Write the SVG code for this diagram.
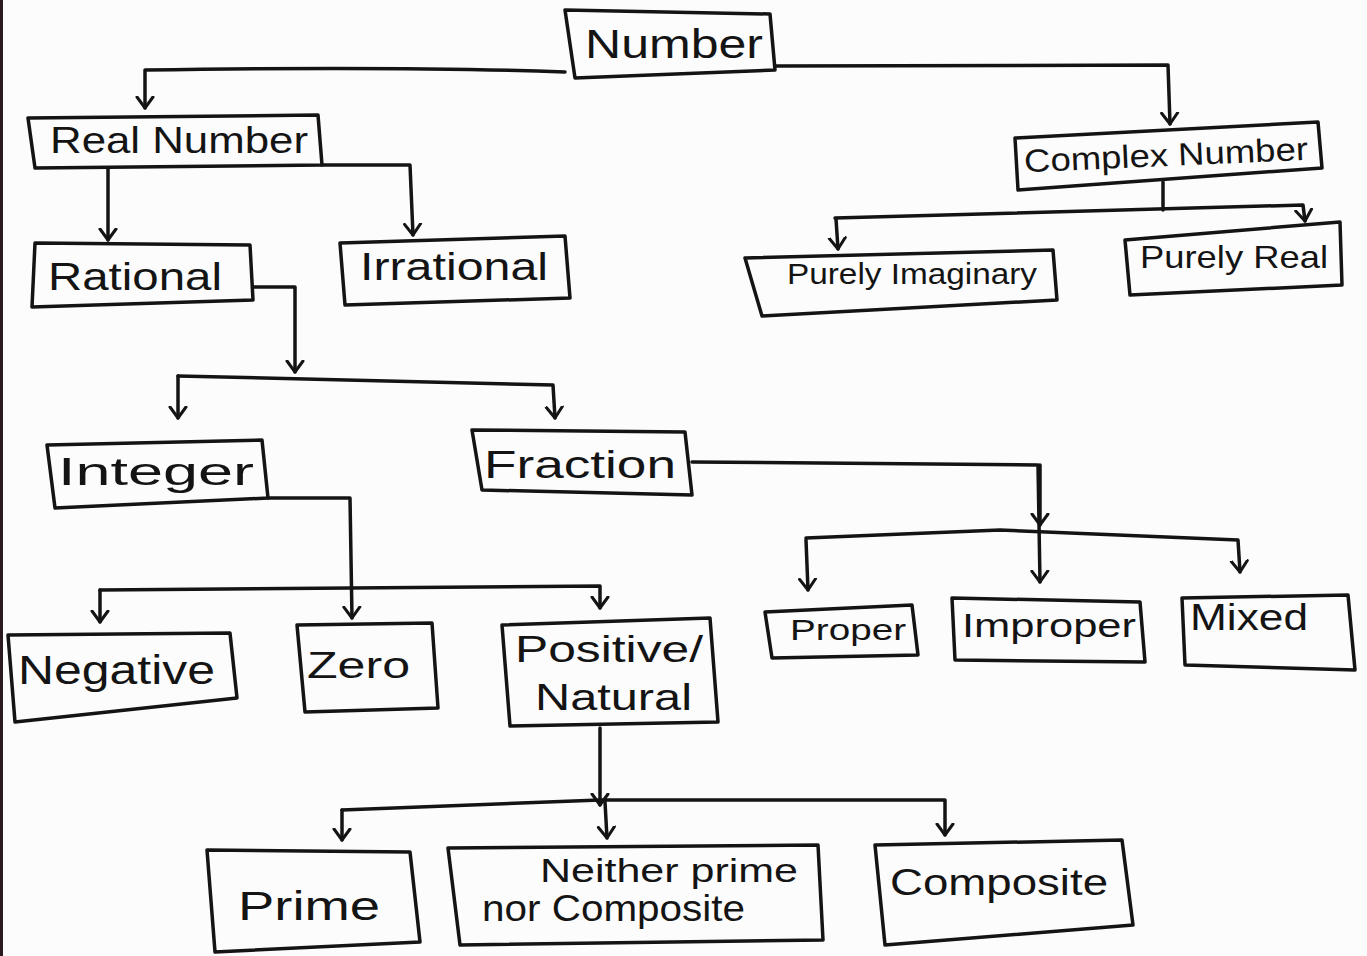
<svg xmlns="http://www.w3.org/2000/svg" width="1367" height="956" viewBox="0 0 1367 956">
<style>
.box{fill:none;stroke:#141414;stroke-width:3.5;stroke-linejoin:round}
.con{fill:none;stroke:#141414;stroke-width:3.5;stroke-linecap:round;stroke-linejoin:round}
text{font-family:"Liberation Sans","DejaVu Sans",sans-serif;fill:#141414;text-anchor:start}
</style>
<defs>
<marker id="ah" viewBox="-12 -10 14 20" markerWidth="14" markerHeight="20" refX="0" refY="0" orient="auto" markerUnits="userSpaceOnUse">
<path d="M-11,-8 L0,0 L-11,8" fill="none" stroke="#141414" stroke-width="3" stroke-linecap="round" stroke-linejoin="round"/>
</marker>
</defs>
<rect x="0" y="0" width="1367" height="956" fill="#fcfcfc"/>
<rect x="0" y="0" width="3" height="956" fill="#2a1a1e"/>

<g id="connectors">
<path class="con" d="M565,72 Q400,66 145,70 L145,108" marker-end="url(#ah)"/>
<path class="con" d="M775,66 L1168,65 L1170,124" marker-end="url(#ah)"/>
<path class="con" d="M108,168 L108,240" marker-end="url(#ah)"/>
<path class="con" d="M322,165 L410,165 L413,235" marker-end="url(#ah)"/>
<path class="con" d="M1163,182 L1163,210"/>
<path class="con" d="M835,218 L1303,205 L1305,221" marker-end="url(#ah)"/>
<path class="con" d="M836,219 L838,249" marker-end="url(#ah)"/>
<path class="con" d="M253,287 L295,287 L295,372" marker-end="url(#ah)"/>
<path class="con" d="M178,376 L553,385 L555,418" marker-end="url(#ah)"/>
<path class="con" d="M178,376 L178,418" marker-end="url(#ah)"/>
<path class="con" d="M268,498 L350,498 L352,618" marker-end="url(#ah)"/>
<path class="con" d="M100,590 L600,586 L600,608" marker-end="url(#ah)"/>
<path class="con" d="M100,590 L100,622" marker-end="url(#ah)"/>
<path class="con" d="M692,462 L1038,465 L1040,582" marker-end="url(#ah)"/>
<path class="con" d="M1040,465 L1040,525" marker-end="url(#ah)"/>
<path class="con" d="M806,538 L1000,530 L1238,540 L1240,572" marker-end="url(#ah)"/>
<path class="con" d="M806,540 L808,590" marker-end="url(#ah)"/>
<path class="con" d="M600,728 L600,805" marker-end="url(#ah)"/>
<path class="con" d="M342,810 L600,800 L945,800 L945,835" marker-end="url(#ah)"/>
<path class="con" d="M342,810 L342,840" marker-end="url(#ah)"/>
<path class="con" d="M605,802 L607,838" marker-end="url(#ah)"/>
</g>

<g id="number">
<path class="box" d="M565,10 L770,14 L775,70 L575,78 Z"/>
<text x="585" y="58" font-size="40" textLength="178" lengthAdjust="spacingAndGlyphs">Number</text>
</g>
<g id="real-number">
<path class="box" d="M28,118 L318,115 L322,165 L35,168 Z"/>
<text x="50" y="153" font-size="36" textLength="258" lengthAdjust="spacingAndGlyphs">Real Number</text>
</g>
<g id="complex-number">
<path class="box" d="M1015,138 L1318,122 L1322,168 L1018,190 Z"/>
<text x="1024" y="166" font-size="32" textLength="284" lengthAdjust="spacingAndGlyphs" transform="rotate(-2.5 1166 156)">Complex Number</text>
</g>
<g id="rational">
<path class="box" d="M35,243 L250,245 L253,300 L32,307 Z"/>
<text x="48" y="290" font-size="38" textLength="174" lengthAdjust="spacingAndGlyphs">Rational</text>
</g>
<g id="irrational">
<path class="box" d="M340,243 L565,236 L570,298 L345,305 Z"/>
<text x="360" y="280" font-size="38" textLength="188" lengthAdjust="spacingAndGlyphs">Irrational</text>
</g>
<g id="purely-imaginary">
<path class="box" d="M745,258 L1053,250 L1057,300 L762,316 Z"/>
<text x="787" y="284" font-size="29" textLength="250" lengthAdjust="spacingAndGlyphs">Purely Imaginary</text>
</g>
<g id="purely-real">
<path class="box" d="M1125,240 L1340,222 L1342,285 L1130,295 Z"/>
<text x="1140" y="268" font-size="32" textLength="188" lengthAdjust="spacingAndGlyphs">Purely Real</text>
</g>
<g id="integer">
<path class="box" d="M47,445 L262,440 L268,498 L55,508 Z"/>
<text x="58" y="485" font-size="38" textLength="196" lengthAdjust="spacingAndGlyphs">Integer</text>
</g>
<g id="fraction">
<path class="box" d="M472,430 L685,432 L692,495 L482,490 Z"/>
<text x="484" y="478" font-size="38" textLength="192" lengthAdjust="spacingAndGlyphs">Fraction</text>
</g>
<g id="negative">
<path class="box" d="M8,635 L230,633 L237,698 L15,722 Z"/>
<text x="18" y="684" font-size="40" textLength="197" lengthAdjust="spacingAndGlyphs">Negative</text>
</g>
<g id="zero">
<path class="box" d="M297,625 L432,623 L438,708 L305,712 Z"/>
<text x="307" y="678" font-size="36" textLength="103" lengthAdjust="spacingAndGlyphs">Zero</text>
</g>
<g id="positive-natural">
<path class="box" d="M502,625 L710,618 L718,722 L510,726 Z"/>
<text x="515" y="662" font-size="36" textLength="188" lengthAdjust="spacingAndGlyphs">Positive/</text>
<text x="535" y="710" font-size="36" textLength="157" lengthAdjust="spacingAndGlyphs">Natural</text>
</g>
<g id="proper">
<path class="box" d="M765,612 L912,605 L918,655 L772,658 Z"/>
<text x="790" y="640" font-size="30" textLength="116" lengthAdjust="spacingAndGlyphs">Proper</text>
</g>
<g id="improper">
<path class="box" d="M952,598 L1140,602 L1145,662 L955,660 Z"/>
<text x="962" y="637" font-size="34" textLength="174" lengthAdjust="spacingAndGlyphs">Improper</text>
</g>
<g id="mixed">
<path class="box" d="M1182,598 L1348,595 L1355,670 L1185,665 Z"/>
<text x="1190" y="630" font-size="36" textLength="118" lengthAdjust="spacingAndGlyphs">Mixed</text>
</g>
<g id="prime">
<path class="box" d="M207,850 L410,852 L420,942 L215,952 Z"/>
<text x="238" y="920" font-size="40" textLength="142" lengthAdjust="spacingAndGlyphs">Prime</text>
</g>
<g id="neither">
<path class="box" d="M448,848 L818,845 L823,940 L460,945 Z"/>
<text x="540" y="882" font-size="34" textLength="258" lengthAdjust="spacingAndGlyphs">Neither prime</text>
<text x="482" y="921" font-size="36" textLength="263" lengthAdjust="spacingAndGlyphs">nor Composite</text>
</g>
<g id="composite">
<path class="box" d="M875,845 L1122,840 L1133,925 L885,945 Z"/>
<text x="890" y="895" font-size="36" textLength="218" lengthAdjust="spacingAndGlyphs">Composite</text>
</g>
</svg>
